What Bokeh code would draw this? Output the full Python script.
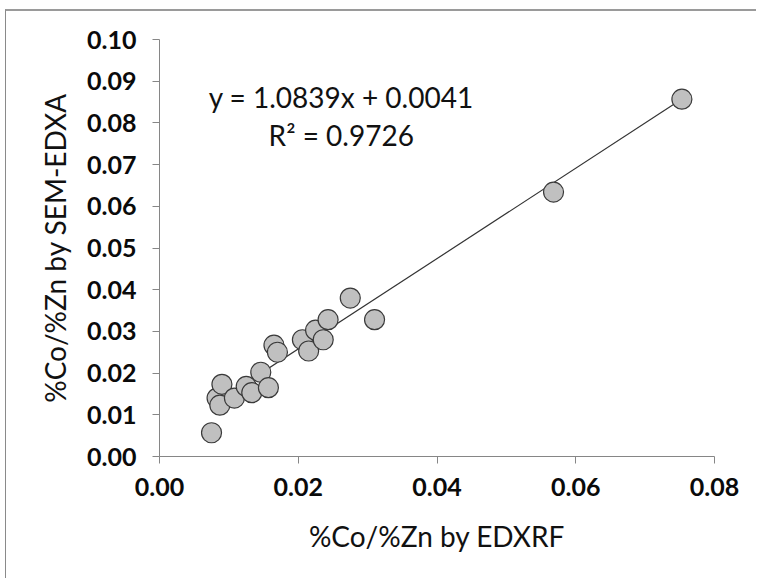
from bokeh.plotting import figure
from bokeh.models import Range1d, FixedTicker, Label, ColumnDataSource, PrintfTickFormatter
from bokeh.embed import file_html
from bokeh.resources import INLINE

# Data
edxrf = [0.0075, 0.0083, 0.0087, 0.0090, 0.0108, 0.0125, 0.0133, 0.0146, 0.0157, 0.0165,
         0.0170, 0.0206, 0.0215, 0.0225, 0.0236, 0.0243, 0.0275, 0.0310, 0.0568, 0.0753]
semedxa = [0.0057, 0.0140, 0.0123, 0.0173, 0.0140, 0.0168, 0.0153, 0.0202, 0.0165, 0.0267,
           0.0250, 0.0280, 0.0253, 0.0303, 0.0280, 0.0328, 0.0380, 0.0328, 0.0634, 0.0857]
slope = 1.0839
intercept = 0.0041
r_squared = 0.9726
x_ticks = [0.00, 0.02, 0.04, 0.06, 0.08]
y_ticks = [0.00, 0.01, 0.02, 0.03, 0.04, 0.05, 0.06, 0.07, 0.08, 0.09, 0.10]
x_title = "%Co/%Zn by EDXRF"
y_title = "%Co/%Zn by SEM-EDXA"

FONT = "Lato"

p = figure(width=751, height=569, output_backend="svg", toolbar_location=None,
           x_range=Range1d(0, 0.08), y_range=Range1d(0, 0.10),
           min_border_left=153, min_border_right=43, min_border_top=28, min_border_bottom=124)
p.styles = {"border-left": "1px solid #8a8a8a", "border-top": "2px solid #9a9a9a",
            "margin-left": "5px", "margin-top": "9px"}
p.background_fill_color = "white"
p.border_fill_color = "white"
p.outline_line_color = None
p.grid.visible = False

for ax in (p.xaxis[0], p.yaxis[0]):
    ax.axis_line_color = "#868686"
    ax.major_tick_line_color = "#868686"
    ax.major_tick_out = 7
    ax.major_tick_in = 0
    ax.minor_tick_line_color = None
    ax.major_label_text_font = FONT
    ax.major_label_text_font_style = "bold"
    ax.major_label_text_font_size = "25px"
    ax.major_label_text_color = "#0a0a0a"
    ax.axis_label_text_font = FONT
    ax.axis_label_text_font_style = "normal"
    ax.axis_label_text_font_size = "28px"
    ax.axis_label_text_color = "#111111"
    ax.formatter = PrintfTickFormatter(format="%.2f")

p.xaxis[0].ticker = FixedTicker(ticks=x_ticks)
p.yaxis[0].ticker = FixedTicker(ticks=y_ticks)
p.xaxis[0].axis_label = x_title
p.yaxis[0].axis_label = y_title
p.xaxis[0].major_label_standoff = 14
p.yaxis[0].major_label_standoff = 16
p.xaxis[0].axis_label_standoff = 20
p.yaxis[0].axis_label_standoff = 12

# trendline from regression coefficients
lx = [min(edxrf), max(edxrf)]
ly = [slope * v + intercept for v in lx]
p.line(lx, ly, line_color="#333333", line_width=1.2)

src = ColumnDataSource(dict(x=edxrf, y=semedxa))
p.scatter("x", "y", source=src, size=20, fill_color="#c0c0c0", line_color="#3a3a3a", line_width=1.2)

eq1 = Label(x=0.0262, y=0.0862, text=f"y = {slope}x + {intercept}", text_align="center",
            text_baseline="middle", text_font=FONT, text_font_size="28px", text_color="#111111")
eq2 = Label(x=0.0262, y=0.0771, text=f"R\u00b2 = {r_squared}", text_align="center",
            text_baseline="middle", text_font=FONT, text_font_size="28px", text_color="#111111")
p.add_layout(eq1)
p.add_layout(eq2)

open("out.html", "w").write(file_html(p, INLINE))
